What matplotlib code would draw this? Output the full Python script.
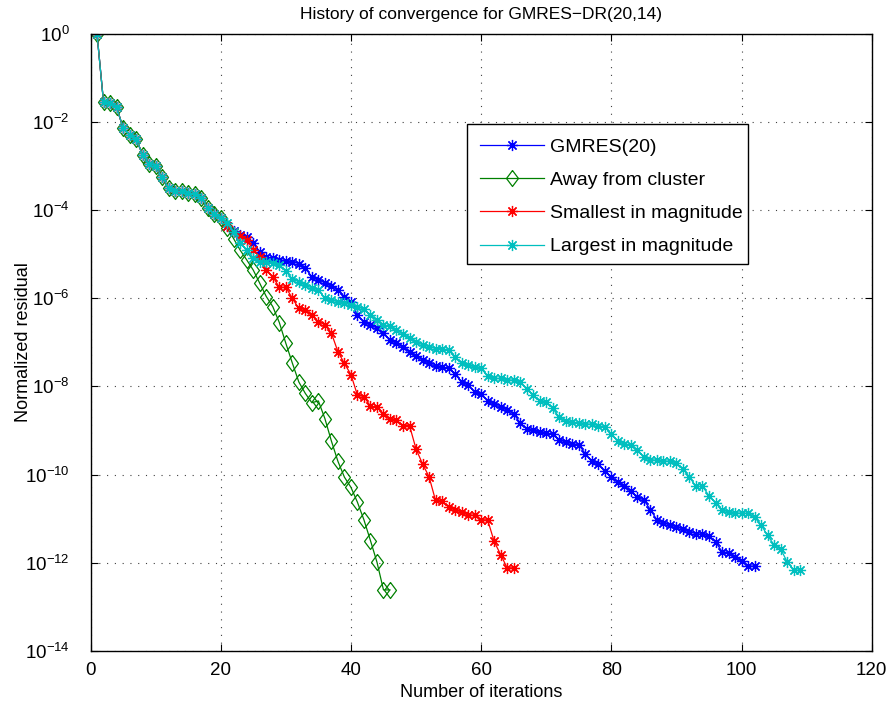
import numpy as np
import matplotlib
matplotlib.use('Agg')
import matplotlib.pyplot as plt
from matplotlib.patches import Rectangle

plt.rcParams['font.family'] = ['Liberation Sans', 'DejaVu Sans']

# log10 of the normalized residual, one value per iteration
common = [0.0, -1.55, -1.57, -1.66, -2.13, -2.29, -2.38, -2.74, -2.94, -3.00,
          -3.25, -3.49, -3.57, -3.57, -3.60, -3.64, -3.72, -3.94, -4.09, -4.17]

gmres = common + [
    -4.35, -4.48, -4.57, -4.60, -4.75, -4.94, -5.06, -5.09, -5.12, -5.15,
    -5.17, -5.21, -5.32, -5.51, -5.58, -5.65, -5.72, -5.81, -5.96, -6.08,
    -6.38, -6.53, -6.60, -6.68, -6.79, -6.94, -7.02, -7.10, -7.21, -7.31,
    -7.39, -7.48, -7.54, -7.56, -7.59, -7.72, -7.90, -7.97, -8.13, -8.18,
    -8.32, -8.41, -8.47, -8.53, -8.62, -8.83, -8.96, -9.00, -9.04, -9.06,
    -9.08, -9.21, -9.27, -9.30, -9.32, -9.53, -9.70, -9.77, -9.93, -10.06,
    -10.17, -10.26, -10.38, -10.52, -10.58, -10.80, -11.03, -11.10, -11.15, -11.19,
    -11.24, -11.30, -11.34, -11.36, -11.40, -11.53, -11.75, -11.78, -11.87, -11.96,
    -12.08, -12.08]

away = common + [
    -4.40, -4.65, -4.91, -5.13, -5.36, -5.66, -5.96, -6.19, -6.55, -7.02,
    -7.47, -7.90, -8.16, -8.37, -8.33, -8.73, -9.24, -9.70, -10.06, -10.29,
    -10.63, -11.03, -11.50, -11.99, -12.62, -12.62]

smallest = common + [
    -4.35, -4.50, -4.58, -4.68, -4.90, -5.06, -5.36, -5.51, -5.75, -5.75,
    -6.00, -6.23, -6.26, -6.38, -6.53, -6.60, -6.79, -7.21, -7.48, -7.73,
    -8.20, -8.23, -8.45, -8.47, -8.62, -8.73, -8.77, -8.89, -8.89, -9.42,
    -9.76, -10.05, -10.59, -10.61, -10.74, -10.80, -10.86, -10.91, -10.93, -11.03,
    -11.03, -11.52, -11.82, -12.12, -12.12]

largest = common + [
    -4.30, -4.50, -4.75, -4.91, -5.09, -5.17, -5.17, -5.19, -5.25, -5.37,
    -5.57, -5.62, -5.70, -5.77, -5.81, -6.00, -6.04, -6.08, -6.11, -6.15,
    -6.19, -6.25, -6.38, -6.49, -6.60, -6.64, -6.72, -6.80, -6.91, -6.99,
    -7.06, -7.10, -7.14, -7.14, -7.18, -7.33, -7.48, -7.52, -7.56, -7.59,
    -7.77, -7.82, -7.82, -7.85, -7.86, -7.90, -8.05, -8.20, -8.33, -8.35,
    -8.50, -8.70, -8.79, -8.81, -8.83, -8.85, -8.86, -8.89, -8.92, -9.08,
    -9.25, -9.31, -9.32, -9.45, -9.60, -9.66, -9.68, -9.69, -9.70, -9.74,
    -9.87, -10.06, -10.27, -10.27, -10.48, -10.64, -10.81, -10.85, -10.87, -10.88,
    -10.88, -10.97, -11.15, -11.38, -11.60, -11.69, -11.98, -12.17, -12.17]

labels = ['GMRES(20)', 'Away from cluster', 'Smallest in magnitude', 'Largest in magnitude']

asterisk = (8, 2, 0)
diamond = [(0, 1), (0.75, 0), (0, -1), (-0.75, 0), (0, 1)]

fig = plt.figure(figsize=(8.9, 7.04), dpi=100)
ax = fig.add_axes([0.1017, 0.0757, 0.8778, 0.876])

series = [
    (gmres, labels[0], 'b', asterisk, 8),
    (away, labels[1], (0, 0.5, 0), diamond, 11.5),
    (smallest, labels[2], 'r', asterisk, 8),
    (largest, labels[3], (0, 0.75, 0.75), asterisk, 8),
]
for vals, lab, col, mk, ms in series:
    it = np.arange(1, len(vals) + 1)
    ax.semilogy(it, 10.0 ** np.array(vals), color=col, marker=mk, markersize=ms,
                markerfacecolor='none', markeredgecolor=col, markeredgewidth=0.9,
                linewidth=0.9, label=lab)

ax.set_xlim(0, 120)
ax.set_ylim(1e-14, 1e0)
ax.set_xticks(np.arange(0, 121, 20))
ax.set_yticks([10.0 ** -k for k in range(0, 15, 2)])
ax.minorticks_off()
ax.tick_params(direction='in', top=True, right=True, labelsize=13.5, length=5, width=0.8)
ax.tick_params(axis='y', pad=15)
ax.tick_params(axis='x', pad=8)
ax.grid(True, linestyle=(0, (1, 6)), color='0.25', linewidth=0.8)
for s in ax.spines.values():
    s.set_linewidth(1.0)

ax.set_title('History of convergence for GMRES\u2212DR(20,14)', fontsize=12.5, pad=11)
ax.set_xlabel('Number of iterations', fontsize=13, labelpad=4)
ax.set_ylabel('Normalized residual', fontsize=13)
ax.yaxis.set_label_coords(-0.075, 0.5)

# legend box drawn separately so its padding can be uneven, as in the original
box = Rectangle((0.5244, 0.625), 0.3157, 0.1984, transform=fig.transFigure,
                facecolor='white', edgecolor='black', linewidth=1.0, zorder=4)
ax.add_patch(box)
leg = ax.legend(loc='upper left', bbox_to_anchor=(0.5393, 0.8037),
                bbox_transform=fig.transFigure, borderaxespad=0, borderpad=0,
                fontsize=14, frameon=False, handlelength=3.3,
                labelspacing=0.8, handletextpad=0.3)
leg.set_zorder(5)

fig.savefig('out.png', dpi=100)
